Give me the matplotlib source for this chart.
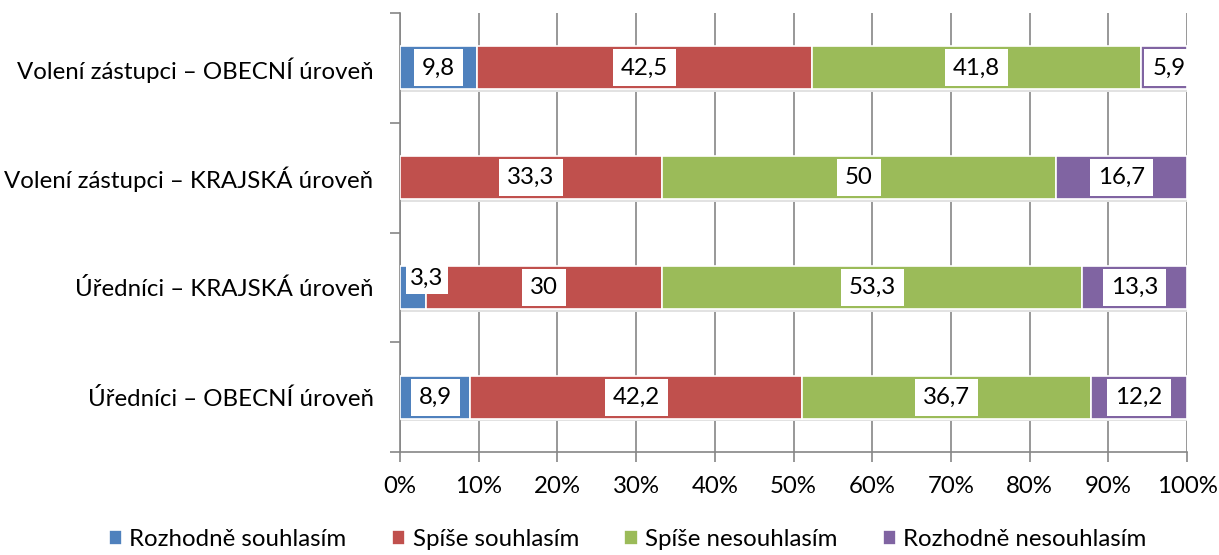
import matplotlib
matplotlib.use("Agg")
import matplotlib.pyplot as plt
import numpy as np
from matplotlib.ticker import FixedLocator, NullFormatter

plt.rcParams['font.family'] = ['Lato', 'DejaVu Sans']

categories = ["Volení zástupci – OBECNÍ úroveň",
              "Volení zástupci – KRAJSKÁ úroveň",
              "Úředníci – KRAJSKÁ úroveň",
              "Úředníci – OBECNÍ úroveň"]
series_names = ["Rozhodně souhlasím", "Spíše souhlasím",
                "Spíše nesouhlasím", "Rozhodně nesouhlasím"]
rozhodne_souhlasim = [9.8, 0.0, 3.3, 8.9]
spise_souhlasim = [42.5, 33.3, 30.0, 42.2]
spise_nesouhlasim = [41.8, 50.0, 53.3, 36.7]
rozhodne_nesouhlasim = [5.9, 16.7, 13.3, 12.2]
colors = ["#4F81BD", "#C0504D", "#9BBB59", "#8064A2"]

data = np.array([rozhodne_souhlasim, spise_souhlasim,
                 spise_nesouhlasim, rozhodne_nesouhlasim])
totals = data.sum(axis=0)
pct = data / totals * 100

fig = plt.figure(figsize=(12.19, 5.55), dpi=100)
ax = fig.add_axes([400/1219, 1-452/555, 787/1219, (452-13)/555])

y = np.arange(len(categories))
left = np.zeros(len(categories))
fs = 17.3
for i, name in enumerate(series_names):
    # soft shadow
    ax.barh(y + 0.025, pct[i], left=left, height=0.39, color="#e2e2e2",
            zorder=2, linewidth=0)
    ax.barh(y, pct[i], left=left, height=0.39, color=colors[i],
            edgecolor="white", linewidth=1.2, label=name, zorder=3)
    for j in range(len(categories)):
        v = data[i, j]
        if v <= 0:
            continue
        cx = left[j] + pct[i, j] / 2
        txt = f"{v:g}".replace(".", ",")
        if i == 0 and j == 2:
            ax.annotate(txt, (cx, y[j]), xytext=(14, 9), textcoords="offset pixels",
                        ha="center", va="center", fontsize=fs, zorder=5,
                        bbox=dict(boxstyle="square,pad=0.2", fc="white", ec="none"))
        elif i == 3 and j == 0:
            ax.annotate(txt, (cx, y[j]), xytext=(5, 0), textcoords="offset pixels",
                        ha="center", va="center", fontsize=fs, zorder=5,
                        bbox=dict(boxstyle="square,pad=0.33", fc="white", ec="none"))
        else:
            ax.text(cx, y[j], txt, ha="center", va="center", fontsize=fs, zorder=5,
                    bbox=dict(boxstyle="square,pad=0.33", fc="white", ec="none"))
    left += pct[i]

ax.set_xlim(0, 100)
ax.set_ylim(len(categories) - 0.5, -0.5)
ax.set_xticks(np.arange(0, 101, 10))
ax.set_xticklabels([f"{t}%" for t in range(0, 101, 10)], fontsize=fs)
ax.set_yticks(y)
ax.set_yticklabels(categories, fontsize=fs)
ax.yaxis.set_minor_locator(FixedLocator(np.arange(-0.5, len(categories), 1)))
ax.yaxis.set_minor_formatter(NullFormatter())
ax.tick_params(axis="y", which="major", length=0, pad=19)
ax.tick_params(axis="y", which="minor", length=7, color="#868686", width=1.2)
ax.tick_params(axis="x", which="major", length=7, color="#868686", width=1.2, pad=10)

ax.grid(axis="x", color="#868686", linewidth=1.2, zorder=0)
ax.set_axisbelow(True)
for s in ["top", "right"]:
    ax.spines[s].set_visible(False)
for s in ["left", "bottom"]:
    ax.spines[s].set_color("#868686")
    ax.spines[s].set_linewidth(1.2)

handles, labels = ax.get_legend_handles_labels()
fig.legend(handles, labels, loc="lower center", bbox_to_anchor=(0.515, 0.0), ncol=4,
           frameon=False, fontsize=fs, handlelength=0.55, handleheight=0.55,
           handletextpad=0.3, columnspacing=1.9, borderpad=0.1, borderaxespad=0.1)

fig.savefig("out.png", dpi=100)
